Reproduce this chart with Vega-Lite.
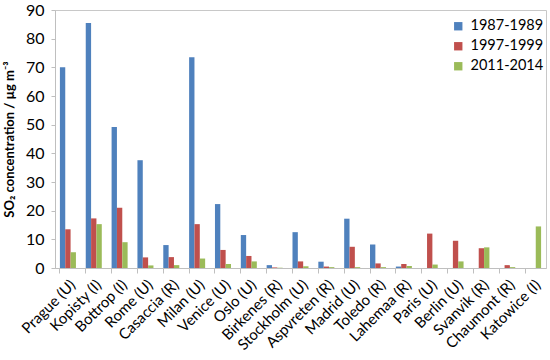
{
  "$schema": "https://vega.github.io/schema/vega-lite/v6.json",
  "width": 491,
  "height": 258,
  "autosize": {"type": "none"},
  "padding": {"left": 55, "top": 10, "right": 4, "bottom": 92},
  "background": "white",
  "config": {
    "font": "Lato",
    "view": {"stroke": "#c8c8c8", "strokeWidth": 1}
  },
  "data": {
    "values": [
      {"site": "Prague (U)", "period": "1987-1989", "v": 70.0},
      {"site": "Prague (U)", "period": "1997-1999", "v": 13.5},
      {"site": "Prague (U)", "period": "2011-2014", "v": 5.5},
      {"site": "Kopisty (I)", "period": "1987-1989", "v": 85.5},
      {"site": "Kopisty (I)", "period": "1997-1999", "v": 17.3},
      {"site": "Kopisty (I)", "period": "2011-2014", "v": 15.3},
      {"site": "Bottrop (I)", "period": "1987-1989", "v": 49.2},
      {"site": "Bottrop (I)", "period": "1997-1999", "v": 21.0},
      {"site": "Bottrop (I)", "period": "2011-2014", "v": 9.0},
      {"site": "Rome (U)", "period": "1987-1989", "v": 37.6},
      {"site": "Rome (U)", "period": "1997-1999", "v": 3.7},
      {"site": "Rome (U)", "period": "2011-2014", "v": 0.9},
      {"site": "Casaccia (R)", "period": "1987-1989", "v": 8.0},
      {"site": "Casaccia (R)", "period": "1997-1999", "v": 3.8},
      {"site": "Casaccia (R)", "period": "2011-2014", "v": 1.0},
      {"site": "Milan (U)", "period": "1987-1989", "v": 73.5},
      {"site": "Milan (U)", "period": "1997-1999", "v": 15.3},
      {"site": "Milan (U)", "period": "2011-2014", "v": 3.3},
      {"site": "Venice (U)", "period": "1987-1989", "v": 22.3},
      {"site": "Venice (U)", "period": "1997-1999", "v": 6.3},
      {"site": "Venice (U)", "period": "2011-2014", "v": 1.4},
      {"site": "Oslo (U)", "period": "1987-1989", "v": 11.5},
      {"site": "Oslo (U)", "period": "1997-1999", "v": 4.2},
      {"site": "Oslo (U)", "period": "2011-2014", "v": 2.3},
      {"site": "Birkenes (R)", "period": "1987-1989", "v": 1.0},
      {"site": "Birkenes (R)", "period": "1997-1999", "v": 0.2},
      {"site": "Birkenes (R)", "period": "2011-2014", "v": 0.1},
      {"site": "Stockholm (U)", "period": "1987-1989", "v": 12.5},
      {"site": "Stockholm (U)", "period": "1997-1999", "v": 2.3},
      {"site": "Stockholm (U)", "period": "2011-2014", "v": 0.6},
      {"site": "Aspvreten (R)", "period": "1987-1989", "v": 2.2},
      {"site": "Aspvreten (R)", "period": "1997-1999", "v": 0.5},
      {"site": "Aspvreten (R)", "period": "2011-2014", "v": 0.3},
      {"site": "Madrid (U)", "period": "1987-1989", "v": 17.2},
      {"site": "Madrid (U)", "period": "1997-1999", "v": 7.4},
      {"site": "Madrid (U)", "period": "2011-2014", "v": 0.3},
      {"site": "Toledo (R)", "period": "1987-1989", "v": 8.2},
      {"site": "Toledo (R)", "period": "1997-1999", "v": 1.6},
      {"site": "Toledo (R)", "period": "2011-2014", "v": 0.3},
      {"site": "Lahemaa (R)", "period": "1987-1989", "v": 0.5},
      {"site": "Lahemaa (R)", "period": "1997-1999", "v": 1.4},
      {"site": "Lahemaa (R)", "period": "2011-2014", "v": 0.7},
      {"site": "Paris (U)", "period": "1987-1989", "v": 0},
      {"site": "Paris (U)", "period": "1997-1999", "v": 12.0},
      {"site": "Paris (U)", "period": "2011-2014", "v": 1.2},
      {"site": "Berlin (U)", "period": "1987-1989", "v": 0},
      {"site": "Berlin (U)", "period": "1997-1999", "v": 9.5},
      {"site": "Berlin (U)", "period": "2011-2014", "v": 2.3},
      {"site": "Svanvik (R)", "period": "1987-1989", "v": 0},
      {"site": "Svanvik (R)", "period": "1997-1999", "v": 6.9},
      {"site": "Svanvik (R)", "period": "2011-2014", "v": 7.2},
      {"site": "Chaumont (R)", "period": "1987-1989", "v": 0},
      {"site": "Chaumont (R)", "period": "1997-1999", "v": 1.0},
      {"site": "Chaumont (R)", "period": "2011-2014", "v": 0.3},
      {"site": "Katowice (I)", "period": "1987-1989", "v": 0},
      {"site": "Katowice (I)", "period": "1997-1999", "v": 0},
      {"site": "Katowice (I)", "period": "2011-2014", "v": 14.5}
    ]
  },
  "mark": {"type": "bar"},
  "encoding": {
    "x": {
      "field": "site",
      "type": "nominal",
      "sort": null,
      "scale": {"paddingInner": 0.38, "paddingOuter": 0.19},
      "axis": {
        "title": null,
        "labelAngle": -45,
        "labelAlign": "right",
        "labelBaseline": "top",
        "labelFontSize": 15,
        "labelColor": "#000",
        "labelPadding": 4,
        "bandPosition": 0,
        "tickColor": "#bfbfbf",
        "tickSize": 5,
        "domainColor": "#bfbfbf"
      }
    },
    "xOffset": {"field": "period", "type": "nominal"},
    "y": {
      "field": "v",
      "type": "quantitative",
      "scale": {"domain": [0, 90], "nice": false},
      "axis": {
        "title": "SO₂ concentration / µg m⁻³",
        "titleFontSize": 13,
        "titleFontWeight": "bold",
        "titleColor": "#000",
        "titlePadding": 9,
        "values": [0, 10, 20, 30, 40, 50, 60, 70, 80, 90],
        "labelFontSize": 16,
        "labelColor": "#000",
        "labelPadding": 7,
        "grid": false,
        "ticks": true,
        "tickColor": "#bfbfbf",
        "tickSize": 4,
        "domainColor": "#bfbfbf"
      }
    },
    "color": {
      "field": "period",
      "type": "nominal",
      "scale": {"domain": ["1987-1989", "1997-1999", "2011-2014"], "range": ["#4F81BD", "#C0504D", "#9BBB59"]},
      "legend": {
        "title": null,
        "orient": "none",
        "legendX": 396,
        "legendY": 9,
        "symbolType": "square",
        "symbolSize": 70,
        "symbolStrokeWidth": 0,
        "labelFontSize": 14.5,
        "labelLimit": 0,
        "labelColor": "#000",
        "rowPadding": 5,
        "labelOffset": 5
      }
    }
  }
}
